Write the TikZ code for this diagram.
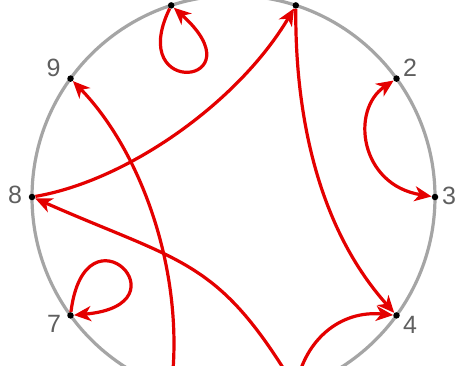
\documentclass[tikz,border=0pt]{standalone}
\usepackage{fontspec}
\setmainfont{Liberation Sans}
\usetikzlibrary{arrows.meta}
\definecolor{edgered}{RGB}{228,0,0}
\definecolor{ringgray}{RGB}{165,165,165}
\definecolor{labgray}{RGB}{95,95,95}
\tikzset{
  vdot/.style={circle,fill=black,inner sep=0pt,minimum size=6.5pt},
  vlab/.style={text=labgray,font=\fontsize{25}{25}\selectfont,inner sep=0pt},
  tip/.style={},
  edge/.style={draw=edgered,line width=3.2pt,-{Stealth[length=17pt,width=15pt,inset=5pt]}},
  biedge/.style={draw=edgered,line width=3.2pt,{Stealth[length=17pt,width=15pt,inset=5pt]}-{Stealth[length=17pt,width=15pt,inset=5pt]}},
  ring/.style={draw=ringgray,line width=3.2pt}
}
\begin{document}
\begin{tikzpicture}[x=1pt,y=-1pt]
\useasboundingbox (0,0) rectangle (456,365);
\clip (0,0) rectangle (456,365);
\fill[white] (0,0) rectangle (456,365);
\coordinate (c) at (233.5,197);
\draw[ring] (c) circle[radius=201.5pt];
% vertices
\node[vdot] (n1) at (295.8,5.4) {};
\node[vdot] (n2) at (396.5,78.6) {};
\node[vdot] (n3) at (435,197) {};
\node[vdot] (n4) at (396.5,315.4) {};
\node[vdot] (n5) at (295.8,388.6) {};
\node[vdot] (n6) at (171.2,388.6) {};
\node[vdot] (n7) at (70.5,315.4) {};
\node[vdot] (n8) at (32,197) {};
\node[vdot] (n9) at (70.5,78.6) {};
\node[vdot] (n10) at (171.2,5.4) {};
% labels
\node[vlab] (l9) at (53.5,68) {9};
\node[vlab] (l2) at (410,68) {2};
\node[vlab] (l3) at (449,196) {3};
\node[vlab] (l4) at (410,325) {4};
\node[vlab] (l7) at (54,324) {7};
\node[vlab] (l8) at (15,195) {8};
% edges
\draw[edge] (n10) .. controls (125,100) and (260,85) .. (n10);
\draw[edge] (n7) .. controls (85,200) and (190,305) .. (n7);
\draw[biedge] (n2) .. controls (350,110) and (360,185) .. (n3);
\draw[edge] (n1) .. controls (295,120) and (320,230) .. (n4);
\draw[edge] (n8) .. controls (130,180) and (240,100) .. (n1);
\draw[edge] (n6) .. controls (185,270) and (140,150) .. (n9);
\draw[edge] (n5) .. controls (217.8,258.6) and (182,263) .. (n8);
\draw[edge] (n5) .. controls (305,340) and (340,310) .. (n4);
\end{tikzpicture}
\end{document}
